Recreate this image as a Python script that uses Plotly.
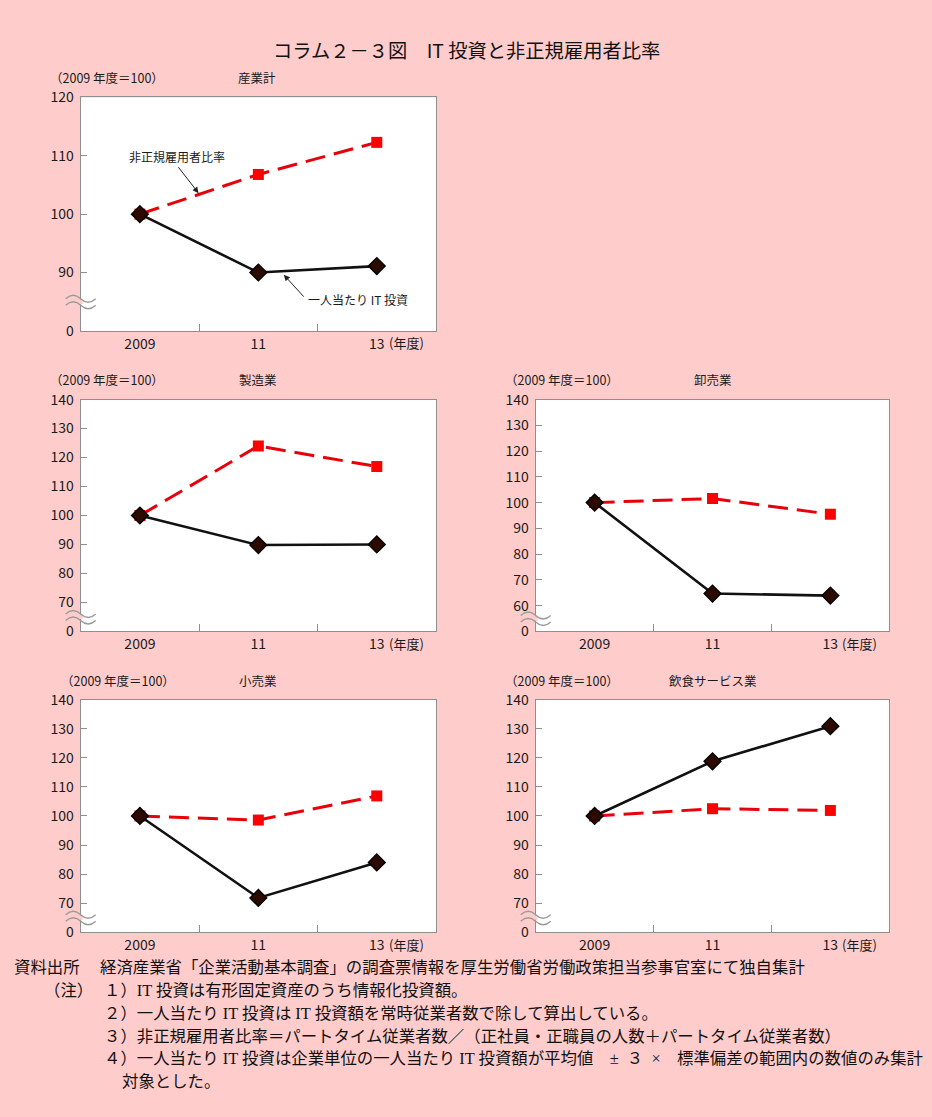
import plotly.graph_objects as go

# ---------------- data ----------------
years = [2009, 2011, 2013]
x_labels = ["2009", "11", "13"]
minor_ticks = [2010, 2012]

panel_titles = ["産業計", "製造業", "卸売業", "小売業", "飲食サービス業"]

nonreg_total = [100, 106.8, 112.3]
it_total = [100, 90.0, 91.1]
nonreg_mfg = [100, 124.0, 116.9]
it_mfg = [100, 89.8, 90.0]
nonreg_wholesale = [100, 101.6, 95.5]
it_wholesale = [100, 64.7, 63.9]
nonreg_retail = [100, 98.6, 106.9]
it_retail = [100, 71.8, 84.0]
nonreg_food = [100, 102.5, 101.9]
it_food = [100, 118.8, 130.9]

# y-axis tick values (broken axis: bottom tick is labelled "0")
yticks_total = [80, 90, 100, 110, 120]
yticks_mfg = [60, 70, 80, 90, 100, 110, 120, 130, 140]
yticks_wholesale = [50, 60, 70, 80, 90, 100, 110, 120, 130, 140]
yticks_retail = [60, 70, 80, 90, 100, 110, 120, 130, 140]
yticks_food = [60, 70, 80, 90, 100, 110, 120, 130, 140]

series_nonreg = [nonreg_total, nonreg_mfg, nonreg_wholesale, nonreg_retail, nonreg_food]
series_it = [it_total, it_mfg, it_wholesale, it_retail, it_food]
series_yticks = [yticks_total, yticks_mfg, yticks_wholesale, yticks_retail, yticks_food]

# ---------------- layout helpers ----------------
W, H = 932, 1117
BG = "#FFCCCC"
AXC = "#8f8f8f"
FONT = "Noto Sans CJK JP"
SERIF = "Liberation Serif, Noto Sans CJK JP"

# pixel boxes of the plot areas: (left, right, top, bottom)
boxes = [
    (80.7, 436, 88, 325.7),
    (80.7, 436, 395.7, 631.7),
    (535.7, 889.3, 395.7, 631.7),
    (80.7, 436, 701.3, 938),
    (535.7, 889.3, 701.3, 938),
]
unit_label_x = [48, 48, 503, 59, 503]
title_x = [257, 258, 713, 258, 713]


def px(x):
    return x / W


def py(y):
    return 1 - y / H


fig = go.Figure()
annotations = []
shapes = []

for i in range(5):
    n = "" if i == 0 else str(i + 1)
    xa, ya = "x" + n, "y" + n
    l, r, t, b = boxes[i]
    ticks = series_yticks[i]
    ttext = ["0"] + [str(v) for v in ticks[1:]]

    fig.add_trace(go.Scatter(
        x=years, y=series_nonreg[i], xaxis=xa, yaxis=ya, mode="lines+markers",
        line=dict(color="#E8000B", width=3, dash="20px,9px"),
        marker=dict(symbol="square", size=11, color="#FF0000", line=dict(width=0)),
        showlegend=False, cliponaxis=False))
    fig.add_trace(go.Scatter(
        x=years, y=series_it[i], xaxis=xa, yaxis=ya, mode="lines+markers",
        line=dict(color="#111111", width=2.6),
        marker=dict(symbol="diamond", size=13, color="#2B0A00", line=dict(color="#000000", width=1.3)),
        showlegend=False, cliponaxis=False))

    xkey = "xaxis" + n
    ykey = "yaxis" + n
    fig.layout[xkey] = dict(
        domain=[px(l), px(r)], anchor=ya, range=[2008, 2014],
        tickmode="array", tickvals=years, ticktext=x_labels, ticks="",
        showline=True, linecolor=AXC, linewidth=1, mirror=True, showgrid=False, zeroline=False,
        tickfont=dict(family=FONT, size=14, color="#1a1a1a"),
        minor=dict(tickmode="array", tickvals=minor_ticks, ticks="inside", ticklen=7,
                   tickcolor=AXC, tickwidth=1, showgrid=False),
        fixedrange=True)
    fig.layout[ykey] = dict(
        domain=[py(b), py(t)], anchor=xa, range=[ticks[0], ticks[-1]],
        tickmode="array", tickvals=ticks, ticktext=ttext, ticks="inside", ticklen=6,
        tickcolor=AXC, tickwidth=1, ticklabelstandoff=3,
        showline=True, linecolor=AXC, linewidth=1, mirror=True, showgrid=False, zeroline=False,
        tickfont=dict(family=FONT, size=14, color="#1a1a1a"),
        fixedrange=True)

    # "(年度)" after the last x label
    annotations.append(dict(
        x=years[-1], xref=xa, y=0, yref=ya + " domain", text="(年度)", showarrow=False,
        xanchor="left", yanchor="middle", xshift=10, yshift=-12,
        font=dict(family=FONT, size=13, color="#1a1a1a")))
    # unit label and panel title
    annotations.append(dict(
        x=px(unit_label_x[i]), y=py(t - 20), xref="paper", yref="paper", text="（2009 年度＝100）",
        showarrow=False, xanchor="left", yanchor="middle",
        font=dict(family=FONT, size=12.5, color="#1a1a1a")))
    annotations.append(dict(
        x=px(title_x[i]), y=py(t - 20), xref="paper", yref="paper", text=panel_titles[i],
        showarrow=False, xanchor="center", yanchor="middle",
        font=dict(family=FONT, size=12.5, color="#1a1a1a")))

    # axis-break symbol between the "0" tick and the next tick
    brk = (ticks[0] + ticks[1]) / 2
    common = dict(xref=xa + " domain", yref=ya, xsizemode="pixel", ysizemode="pixel",
                  xanchor=0, yanchor=brk, layer="above")
    shapes.append(dict(type="path", path="M-2,-2.2 L2,-2.2 L2,2.2 L-2,2.2 Z",
                       fillcolor=BG, line=dict(width=0), **common))
    shapes.append(dict(type="path", path="M-15,3 Q-7.5,10 0,3 T15,3",
                       line=dict(color="#9a9a9a", width=1.4), **common))
    shapes.append(dict(type="path", path="M-15,-3.5 Q-7.5,3.5 0,-3.5 T15,-3.5",
                       line=dict(color="#9a9a9a", width=1.4), **common))

# arrows and series labels in the first panel
annotations += [
    dict(x=2009.63, y=109.9, xref="x", yref="y", text="非正規雇用者比率", showarrow=False,
         font=dict(family=FONT, size=12, color="#1a1a1a")),
    dict(x=2009.99, y=103.6, xref="x", yref="y", ax=2009.63, ay=108.3, axref="x", ayref="y",
         text="", showarrow=True, arrowhead=2, arrowsize=1.2, arrowwidth=1, arrowcolor="#222"),
    dict(x=2012.68, y=85.4, xref="x", yref="y", text="一人当たり IT 投資", showarrow=False,
         font=dict(family=FONT, size=12, color="#1a1a1a")),
    dict(x=2011.43, y=89.6, xref="x", yref="y", ax=2011.79, ay=85.6, axref="x", ayref="y",
         text="", showarrow=True, arrowhead=2, arrowsize=1.2, arrowwidth=1, arrowcolor="#222"),
]

# main title
annotations.append(dict(
    x=px(466), y=py(40), xref="paper", yref="paper", text="コラム２－３図　IT 投資と非正規雇用者比率",
    showarrow=False, xanchor="center", yanchor="middle",
    font=dict(family=FONT, size=19.3, color="#111")))

# footnotes
notes = [
    (12, 974, "資料出所"),
    (98, 974, "経済産業省「企業活動基本調査」の調査票情報を厚生労働省労働政策担当参事官室にて独自集計"),
    (42, 997, "（注）"),
    (102, 997, "１）IT 投資は有形固定資産のうち情報化投資額。"),
    (102, 1021, "２）一人当たり IT 投資は IT 投資額を常時従業者数で除して算出している。"),
    (102, 1044, "３）非正規雇用者比率＝パートタイム従業者数／（正社員・正職員の人数＋パートタイム従業者数）"),
    (102, 1067, "４）一人当たり IT 投資は企業単位の一人当たり IT 投資額が平均値\u3000±\u2002３\u2002×\u3000標準偏差の範囲内の数値のみ集計"),
    (120, 1090, "対象とした。"),
]
for x0, y0, txt in notes:
    annotations.append(dict(
        x=px(x0), y=py(y0), xref="paper", yref="paper", text=txt, showarrow=False,
        xanchor="left", yanchor="middle", font=dict(family=SERIF, size=16.4, color="#111")))

fig.update_layout(
    width=W, height=H, margin=dict(l=0, r=0, t=0, b=0),
    paper_bgcolor=BG, plot_bgcolor="#FFFFFF",
    annotations=annotations, shapes=shapes, showlegend=False,
)

fig.write_html(
    "out.html", config={"displayModeBar": False},
    post_script="document.body.style.margin='0';document.body.style.background='#FFCCCC';",
)
